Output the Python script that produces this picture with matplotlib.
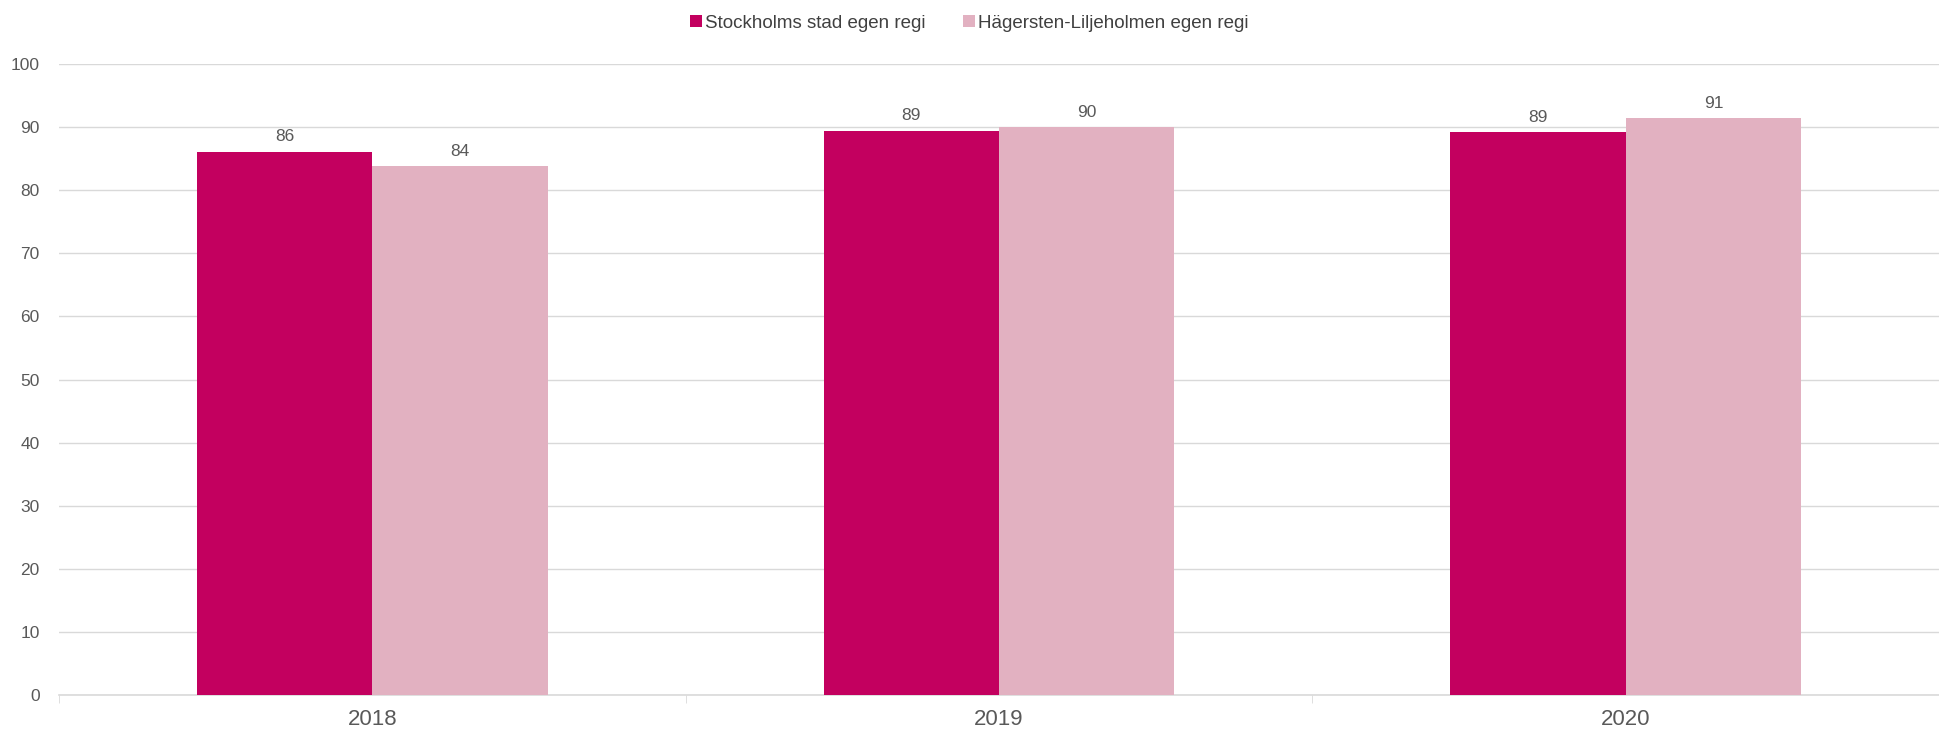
import numpy as np
import matplotlib.pyplot as plt

plt.rcParams['font.family'] = ['Liberation Sans', 'DejaVu Sans']

years = ['2018', '2019', '2020']
series_names = ['Stockholms stad egen regi', 'Hägersten-Liljeholmen egen regi']
stockholm = [86.1, 89.4, 89.2]
hagersten = [83.8, 90.0, 91.4]
colors = ['#C3005F', '#E2B1C1']
text_col = '#595959'

fig = plt.figure(figsize=(19.39, 7.33), dpi=100)
ax = fig.add_axes([0.0304, 0.0518, 0.9696, 0.8609])

x = np.arange(len(years))
w = 0.28
for vals, name, col, off in [(stockholm, series_names[0], colors[0], -w / 2),
                             (hagersten, series_names[1], colors[1], w / 2)]:
    bars = ax.bar(x + off, vals, w, color=col, label=name, zorder=3)
    for b, v in zip(bars, vals):
        ax.text(b.get_x() + b.get_width() / 2, v + 1.2, f'{v:.0f}',
                ha='center', va='bottom', fontsize=12.5, color=text_col)

ax.set_xlim(-0.5, len(years) - 0.5)
ax.set_ylim(0, 100)
ax.set_yticks(np.arange(0, 101, 10))
ax.grid(axis='y', color='#D9D9D9', linewidth=1, zorder=0)
for s in ['top', 'right', 'left']:
    ax.spines[s].set_visible(False)
ax.spines['bottom'].set_color('#D9D9D9')
ax.spines['bottom'].set_linewidth(1.2)

ax.set_xticks(x)
ax.set_xticklabels(years, fontsize=16, color=text_col)
ax.tick_params(axis='x', length=0, pad=10)
ax.set_xticks(np.arange(-0.5, len(years)), minor=True)
ax.tick_params(axis='x', which='minor', length=6, color='#D9D9D9')
ax.tick_params(axis='y', length=0, labelsize=12.5, labelcolor=text_col, pad=14)

leg = fig.legend(loc='upper center', bbox_to_anchor=(0.5, 1.0), ncol=2, frameon=False,
                 fontsize=13.5, handlelength=0.6, handleheight=0.6, handletextpad=0.2,
                 columnspacing=2.0, borderaxespad=0.4)
for t in leg.get_texts():
    t.set_color('#404040')

fig.savefig('out.png', dpi=100)
